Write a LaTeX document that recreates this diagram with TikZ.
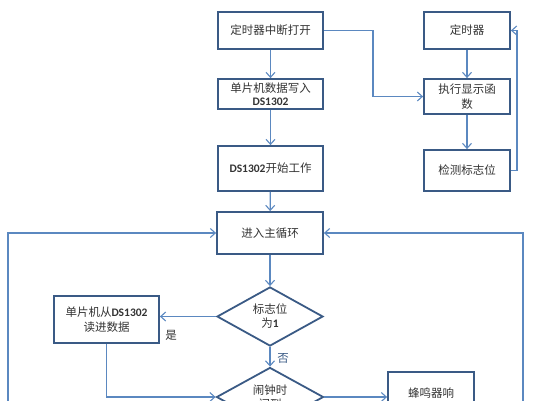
\documentclass[tikz,border=0pt]{standalone}
\usepackage{fontspec}
\setmainfont{Noto Sans CJK SC}
\newfontfamily\latf{Carlito}
\usetikzlibrary{arrows.meta,shapes.geometric}
\definecolor{boxc}{HTML}{3A5A85}
\definecolor{arrc}{HTML}{5B88C0}
\definecolor{txtc}{HTML}{333333}
\newcommand{\dsx}[1]{{\latf\bfseries #1}}
\tikzset{
  box/.style={draw=boxc, line width=1.8pt, rectangle, inner sep=1pt, align=center,
    text=txtc, font=\fontsize{11.5}{14}\selectfont},
  dia/.style={draw=boxc, line width=1.8pt, diamond, inner sep=0pt, align=center,
    text=txtc, font=\fontsize{11.5}{14}\selectfont},
  conn/.style={draw=arrc, line width=1.2pt, -{Straight Barb[length=5pt,width=9pt,line width=1.1pt]}},
  plain/.style={draw=arrc, line width=1.2pt},
  lbl/.style={font=\fontsize{11.5}{14}\selectfont, inner sep=0pt}
}
\begin{document}
\begin{tikzpicture}[x=1pt,y=-1pt]
\useasboundingbox (0,0) rectangle (545,400);
\node[box, minimum width=105pt, minimum height=37pt] (A) at (270.5,30.5) {定时器中断打开};
\node[box, minimum width=105pt, minimum height=30pt, font=\fontsize{11.5}{13}\selectfont] (B) at (270.5,94) {单片机数据写入\\\dsx{DS1302}};
\node[box, minimum width=105pt, minimum height=45pt] (C) at (270.5,168.5) {\dsx{DS1302}开始工作};
\node[box, minimum width=86pt, minimum height=37pt] (T) at (467,30.5) {定时器};
\node[box, minimum width=86pt, minimum height=35pt, font=\fontsize{11.5}{15}\selectfont] (E) at (467,96.5) {执行显示函\\数};
\node[box, minimum width=86pt, minimum height=41pt] (F) at (467,170.5) {检测标志位};
\node[box, minimum width=106pt, minimum height=42pt] (M) at (270,233) {进入主循环};
\node[dia, minimum width=106pt, minimum height=57pt] (D1) at (270,316.5) {标志位\\为\dsx{1}};
\node[box, minimum width=105pt, minimum height=47pt, font=\fontsize{11.5}{15}\selectfont] (R) at (106.5,319.5) {单片机从\dsx{DS1302}\\读进数据};
\node[dia, minimum width=107pt, minimum height=56pt] (D2) at (270,397) {闹钟时\\间到};
\node[box, minimum width=86pt, minimum height=42pt] (Z) at (431,393) {蜂鸣器响};
\node[lbl, text=txtc] (yes) at (171,335) {是};
\node[lbl, text=boxc] (no) at (283,358) {否};
\coordinate (L0) at (8,420);
\coordinate (R0) at (523,420);
% top-left column
\draw[conn] (A) -- (B);
\draw[conn] (B) -- (C);
\draw[conn] (C) -- (M);
% right column
\draw[conn] (T) -- (E);
\draw[conn] (E) -- (F);
\draw[conn] (F.east) -- ++(6,0) |- (T.east);
\draw[conn] (A.east) -- (373,30.5) |- (E.west);
% main loop
\draw[conn] (M) -- (D1);
\draw[conn] (D1.west) -- (D1.west -| R.east);
\draw[conn] (D1) -- (D2);
\draw[conn] (R.south) |- (D2.west);
\draw[conn] (D2.east) -- (D2.east -| Z.west);
\draw[conn] (L0) |- (M.west);
\draw[conn] (R0) |- (M.east);
\end{tikzpicture}
\end{document}
